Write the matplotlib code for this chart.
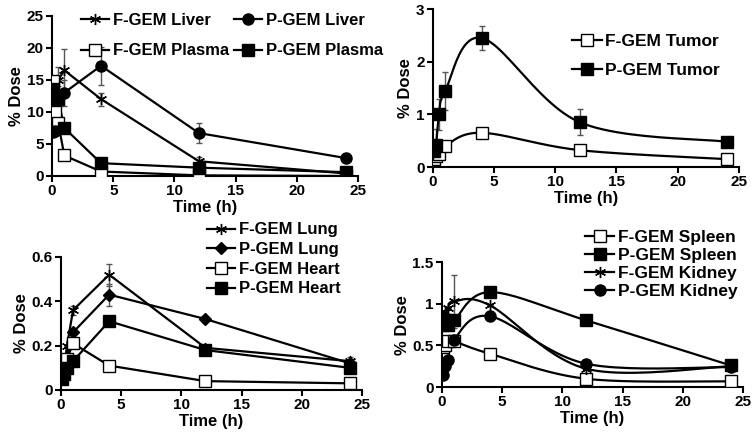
import numpy as np
import matplotlib
matplotlib.use("Agg")
import matplotlib.pyplot as plt

plt.rcParams['font.family'] = ['Liberation Sans', 'DejaVu Sans']
plt.rcParams['font.weight'] = 'bold'

# sampling times (h)
time_h = [0.083, 0.25, 0.5, 1, 4, 12, 24]

# liver / plasma
f_liver = [10.0, 12.0, 15.0, 16.5, 12.0, 2.3, 0.4]
f_liver_err = [0, 0, 2.0, 3.3, 1.0, 0.6, 0]
p_liver = [6.8, 7.0, 12.5, 13.0, 17.2, 6.7, 2.8]
p_liver_err = [0, 0, 1.5, 2.0, 3.0, 1.5, 0]
f_plasma = [14.8, 10.0, 8.3, 3.2, 0.7, 0.1, 0.0]
f_plasma_err = [0, 0, 0, 0, 0, 0, 0]
p_plasma = [13.5, 12.5, 12.0, 7.5, 2.0, 1.3, 0.6]
p_plasma_err = [0, 0, 0, 0, 0, 0, 0]

# tumor
f_tumor = [0.15, 0.2, 0.25, 0.4, 0.65, 0.32, 0.15]
f_tumor_err = [0, 0, 0, 0, 0.05, 0, 0]
p_tumor = [0.3, 0.42, 1.0, 1.45, 2.45, 0.85, 0.48]
p_tumor_err = [0, 0.3, 0.3, 0.36, 0.22, 0.25, 0]

# lung / heart
f_lung = [0.08, 0.1, 0.2, 0.36, 0.52, 0.19, 0.13]
f_lung_err = [0, 0, 0, 0.02, 0.05, 0, 0.02]
p_lung = [0.07, 0.1, 0.15, 0.26, 0.43, 0.32, 0.12]
p_lung_err = [0, 0, 0, 0, 0.05, 0, 0]
f_heart = [0.08, 0.1, 0.14, 0.21, 0.11, 0.04, 0.03]
f_heart_err = [0, 0, 0, 0, 0, 0, 0]
p_heart = [0.05, 0.07, 0.1, 0.13, 0.31, 0.18, 0.1]
p_heart_err = [0, 0, 0, 0, 0, 0, 0]

# spleen / kidney
f_spleen = [0.48, 0.5, 0.55, 0.55, 0.4, 0.1, 0.07]
f_spleen_err = [0, 0, 0, 0, 0, 0, 0]
p_spleen = [0.75, 0.8, 0.75, 0.8, 1.14, 0.8, 0.26]
p_spleen_err = [0, 0, 0, 0, 0, 0, 0]
f_kidney = [0.85, 0.9, 0.95, 1.03, 0.98, 0.22, 0.25]
f_kidney_err = [0, 0, 0, 0.32, 0, 0, 0]
p_kidney = [0.15, 0.25, 0.32, 0.57, 0.85, 0.28, 0.24]
p_kidney_err = [0, 0, 0, 0, 0, 0, 0]


def smooth(x, y, n=25):
    # Excel-style smoothed line through the points (Bezier, 1/6 tension)
    x = np.asarray(x, float)
    y = np.asarray(y, float)
    px = np.concatenate([[x[0]], x, [x[-1]]])
    py = np.concatenate([[y[0]], y, [y[-1]]])
    t = np.linspace(0, 1, n)
    xs, ys = [], []
    for i in range(1, len(px) - 2):
        c1x = px[i] + (px[i + 1] - px[i - 1]) / 6
        c1y = py[i] + (py[i + 1] - py[i - 1]) / 6
        c2x = px[i + 1] - (px[i + 2] - px[i]) / 6
        c2y = py[i + 1] - (py[i + 2] - py[i]) / 6
        b0 = (1 - t) ** 3
        b1 = 3 * (1 - t) ** 2 * t
        b2 = 3 * (1 - t) * t ** 2
        b3 = t ** 3
        xs.append(b0 * px[i] + b1 * c1x + b2 * c2x + b3 * px[i + 1])
        ys.append(b0 * py[i] + b1 * c1y + b2 * c2y + b3 * py[i + 1])
    return np.concatenate(xs), np.concatenate(ys)


styles = {
    'star': dict(marker=(6, 2, 0), ms=8, mfc='black', mec='black', mew=1.0),
    'circle': dict(marker='o', ms=8, mfc='black', mec='black'),
    'open': dict(marker='s', ms=8, mfc='white', mec='black', mew=1.0),
    'filled': dict(marker='s', ms=8, mfc='black', mec='black'),
    'diamond': dict(marker='D', ms=6, mfc='black', mec='black'),
}


def draw(ax, y, err, style, label, curved):
    ax.errorbar(time_h, y, yerr=err, fmt='none', ecolor='#555555',
                elinewidth=1.0, capsize=2.5, zorder=1)
    if curved:
        sx, sy = smooth(time_h, y)
        ax.plot(sx, sy, color='black', lw=1.6, zorder=2)
    else:
        ax.plot(time_h, y, color='black', lw=1.6, zorder=2)
    ax.plot(time_h, y, ls='none', zorder=3, **styles[style])
    # proxy for legend
    h, = ax.plot([], [], color='black', lw=1.6, label=label, **styles[style])
    return h


def setup(ax, ylim, yticks, yticklabels, xlabel=True):
    ax.set_xlim(0, 25)
    ax.set_ylim(*ylim)
    ax.set_xticks([0, 5, 10, 15, 20, 25])
    ax.set_yticks(yticks)
    ax.set_yticklabels(yticklabels)
    for s in ['top', 'right']:
        ax.spines[s].set_visible(False)
    for s in ['left', 'bottom']:
        ax.spines[s].set_linewidth(1.5)
    ax.tick_params(direction='out', length=4, width=1.5, labelsize=11, pad=2)
    for lab in ax.get_xticklabels() + ax.get_yticklabels():
        lab.set_fontweight('bold')
    ax.set_ylabel('% Dose', fontsize=12, fontweight='bold', labelpad=2)
    if xlabel:
        ax.set_xlabel('Time (h)', fontsize=12, fontweight='bold', labelpad=1)
    ax.margins(0)


def legend_kw(size, spacing):
    return dict(frameon=False, handlelength=1.7, handletextpad=0.2,
                borderpad=0, borderaxespad=0, labelspacing=spacing,
                prop={'weight': 'bold', 'size': size})


fig = plt.figure(figsize=(7.55, 4.45), dpi=100)

# top left
ax1 = fig.add_axes([0.069, 0.6045, 0.405, 0.36])
h1 = draw(ax1, f_liver, f_liver_err, 'star', 'F-GEM Liver', False)
h3 = draw(ax1, f_plasma, f_plasma_err, 'open', 'F-GEM Plasma', False)
h2 = draw(ax1, p_liver, p_liver_err, 'circle', 'P-GEM Liver', False)
h4 = draw(ax1, p_plasma, p_plasma_err, 'filled', 'P-GEM Plasma', False)
setup(ax1, (0, 25), [0, 5, 10, 15, 20, 25], ['0', '5', '10', '15', '20', '25'])
ax1.legend(handles=[h1, h3, h2, h4], ncol=2, loc='upper left',
           bbox_to_anchor=(0.095, 1.02), columnspacing=0.3,
           **legend_kw(12, 0.95))

# top right
ax2 = fig.add_axes([0.5735, 0.6247, 0.405, 0.355])
g1 = draw(ax2, f_tumor, f_tumor_err, 'open', 'F-GEM Tumor', True)
g2 = draw(ax2, p_tumor, p_tumor_err, 'filled', 'P-GEM Tumor', True)
setup(ax2, (0, 3), [0, 1, 2, 3], ['0', '1', '2', '3'])
ax2.legend(handles=[g1, g2], loc='upper left', bbox_to_anchor=(0.455, 0.84),
           **legend_kw(12.5, 0.75))

# bottom left
ax3 = fig.add_axes([0.0808, 0.1236, 0.3987, 0.299])
k1 = draw(ax3, f_lung, f_lung_err, 'star', 'F-GEM Lung', False)
k2 = draw(ax3, p_lung, p_lung_err, 'diamond', 'P-GEM Lung', False)
k3 = draw(ax3, f_heart, f_heart_err, 'open', 'F-GEM Heart', False)
k4 = draw(ax3, p_heart, p_heart_err, 'filled', 'P-GEM Heart', False)
setup(ax3, (0, 0.6), [0, 0.2, 0.4, 0.6], ['0', '0.2', '0.4', '0.6'])
ax3.legend(handles=[k1, k2, k3, k4], loc='upper left',
           bbox_to_anchor=(0.485, 1.26), **legend_kw(12, 0.28))

# bottom right
ax4 = fig.add_axes([0.5854, 0.130, 0.3987, 0.281])
m1 = draw(ax4, f_spleen, f_spleen_err, 'open', 'F-GEM Spleen', True)
m2 = draw(ax4, p_spleen, p_spleen_err, 'filled', 'P-GEM Spleen', True)
m3 = draw(ax4, f_kidney, f_kidney_err, 'star', 'F-GEM Kidney', True)
m4 = draw(ax4, p_kidney, p_kidney_err, 'circle', 'P-GEM Kidney', True)
setup(ax4, (0, 1.5), [0, 0.5, 1, 1.5], ['0', '0.5', '1', '1.5'])
ax4.legend(handles=[m1, m2, m3, m4], loc='upper left',
           bbox_to_anchor=(0.475, 1.26), **legend_kw(12.5, 0.17))

fig.savefig('out.png', dpi=100)
